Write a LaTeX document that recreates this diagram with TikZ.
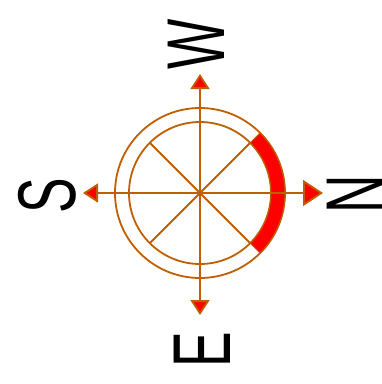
\documentclass[tikz,border=0pt]{standalone}
\usepackage{fontspec}
\setmainfont{Liberation Sans}
\usetikzlibrary{arrows.meta}
\definecolor{ocol}{RGB}{190,96,0}
\tikzset{
  ln/.style={draw=ocol, line width=1.8pt},
  lbl/.style={inner sep=0pt, rotate=90, font=\fontsize{82}{82}\selectfont},
  tipS/.style={-{Triangle[length=15pt,width=19pt,fill=red]}},
  tipL/.style={-{Triangle[length=20pt,width=26pt,fill=red]}}
}
\newcommand{\sq}[1]{\scalebox{0.65}[1]{#1}}
\begin{document}
\begin{tikzpicture}[x=1pt,y=-1pt]
\useasboundingbox (0,0) rectangle (382,384);
\coordinate (c) at (200,193);
\coordinate (t) at (200,74);
\coordinate (b) at (200,315);
\coordinate (l) at (83,193);
\coordinate (r) at (323,193);
% circles
\draw[ln] (c) circle[radius=85];
\draw[ln] (c) circle[radius=71];
% diagonals
\draw[ln] (c) -- ++(45:71);
\draw[ln] (c) -- ++(135:71);
\draw[ln] (c) -- ++(225:71);
\draw[ln] (c) -- ++(315:71);
% red band
\draw[draw=ocol, line width=1pt, fill=red]
  ([shift={(-45:71)}]c) arc[start angle=-45, end angle=45, radius=71]
  -- ([shift={(45:85)}]c) arc[start angle=45, end angle=-45, radius=85] -- cycle;
% arrows
\draw[ln, tipS] (c) -- (t);
\draw[ln, tipS] (c) -- (b);
\draw[ln, tipS] (c) -- (l);
\draw[ln, tipL] (c) -- (r);
% labels
\node[lbl] (W) at (196,44) {\sq{W}};
\node[lbl] (N) at (355,194) {\sq{N}};
\node[lbl] (S) at (47,196) {\sq{S}};
\node[lbl] (E) at (202,350) {\sq{E}};
\end{tikzpicture}
\end{document}
